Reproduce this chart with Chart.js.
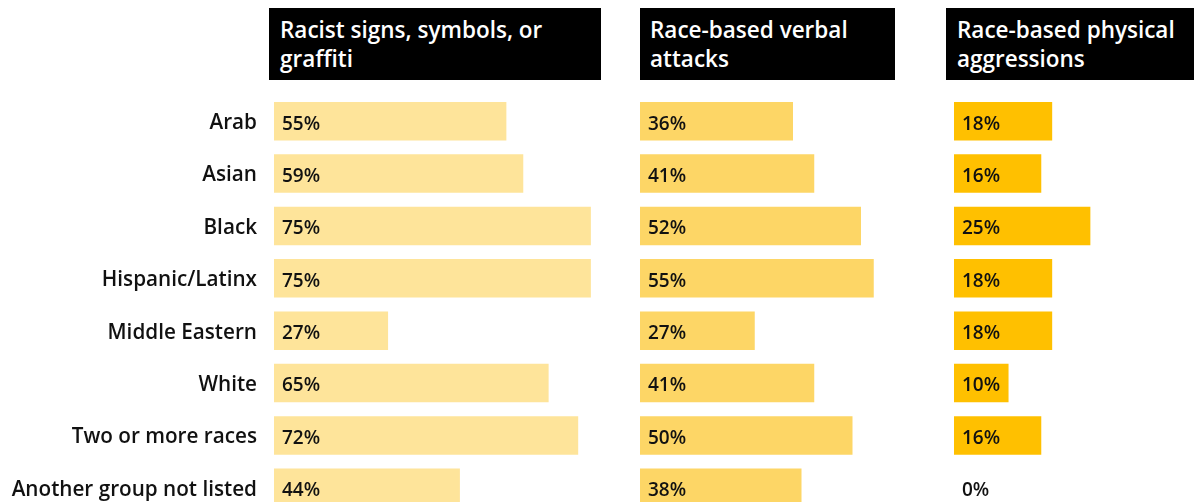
<!DOCTYPE html>
<html>
<head>
<meta charset="utf-8">
<script src="https://cdn.jsdelivr.net/npm/chart.js@4"></script>
<style>
  html, body { margin: 0; padding: 0; width: 1194px; height: 502px; overflow: hidden; background: #fff; }
  .hdr { position: absolute; top: 8px; height: 72px; background: #000; color: #fff;
         font-family: "Open Sans", sans-serif; font-weight: 600; font-size: 22.5px; line-height: 29px;
         box-sizing: border-box; padding: 7px 0 0 11px; white-space: nowrap; }
  .cv { position: absolute; top: 95px; height: 419px; }
</style>
</head>
<body>
<div class="hdr" style="left:269px;width:332px;">Racist signs, symbols, or<br>graffiti</div>
<div class="hdr" style="left:640px;width:255px;padding-left:10px;">Race-based verbal<br>attacks</div>
<div class="hdr" style="left:946px;width:248px;padding-left:11px;">Race-based physical<br>aggressions</div>
<div class="cv" style="left:0;width:612px;"><canvas id="c1"></canvas></div>
<div class="cv" style="left:640px;width:255px;"><canvas id="c2"></canvas></div>
<div class="cv" style="left:954px;width:240px;"><canvas id="c3"></canvas></div>
<script>
const categories = ["Arab", "Asian", "Black", "Hispanic/Latinx", "Middle Eastern", "White", "Two or more races", "Another group not listed"];
const signsValues = [55, 59, 75, 75, 27, 65, 72, 44];
const verbalValues = [36, 41, 52, 55, 27, 41, 50, 38];
const physicalValues = [18, 16, 25, 18, 18, 10, 16, 0];

const valueLabelPlugin = {
  id: 'valueLabels',
  afterDatasetsDraw(chart) {
    const ctx = chart.ctx;
    const meta = chart.getDatasetMeta(0);
    const data = chart.data.datasets[0].data;
    const x0 = chart.scales.x.getPixelForValue(0);
    ctx.save();
    ctx.font = '600 19px "Open Sans", sans-serif';
    ctx.fillStyle = '#111';
    ctx.textAlign = 'left';
    ctx.textBaseline = 'middle';
    meta.data.forEach((bar, i) => {
      ctx.fillText(data[i] + '%', x0 + 8, bar.y + 3);
    });
    ctx.restore();
  }
};

function makeChart(id, values, color, xMax, showLabels) {
  return new Chart(document.getElementById(id), {
    type: 'bar',
    data: {
      labels: categories,
      datasets: [{ data: values, backgroundColor: color, borderWidth: 0,
                   categoryPercentage: 1, barPercentage: 0.735 }]
    },
    options: {
      indexAxis: 'y',
      responsive: true,
      maintainAspectRatio: false,
      animation: false,
      layout: { padding: 0 },
      plugins: { legend: { display: false }, tooltip: { enabled: false } },
      scales: {
        x: { display: false, min: 0, max: xMax },
        y: {
          display: showLabels,
          grid: { display: false, drawTicks: false },
          border: { display: false },
          ticks: { padding: 17, labelOffset: 2, color: '#111', font: { family: '"Open Sans", sans-serif', size: 20.7, weight: 600 } },
          afterFit(scale) {
            if (showLabels) { scale.width = 274; }
            scale.paddingTop = 0; scale.paddingBottom = 0;
          }
        }
      }
    },
    plugins: [valueLabelPlugin]
  });
}

makeChart('c1', signsValues, '#FEE49A', 80, true);
makeChart('c2', verbalValues, '#FDD666', 60, false);
makeChart('c3', physicalValues, '#FFC000', 44, false);
</script>
</body>
</html>
